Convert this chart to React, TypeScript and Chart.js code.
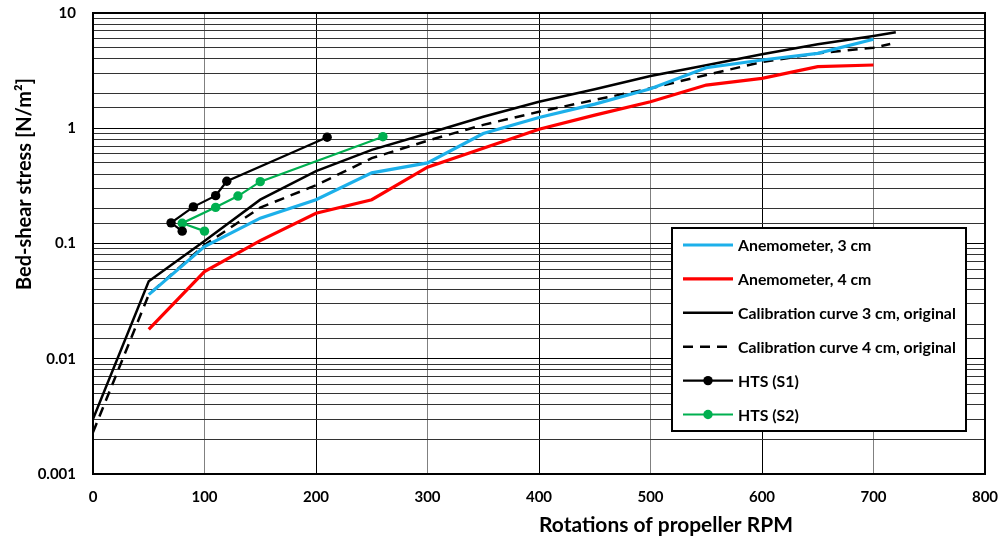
import React, { useEffect, useRef } from "react";
import { Chart, registerables } from "chart.js";

Chart.register(...registerables);

// ---- data ----
const rpmCalib3 = [0, 50, 100, 150, 200, 250, 300, 350, 400, 450, 500, 550, 600, 650, 700, 720];
const tauCalib3 = [0.003, 0.047, 0.105, 0.24, 0.425, 0.65, 0.9, 1.26, 1.7, 2.18, 2.84, 3.52, 4.38, 5.35, 6.31, 6.8];

const rpmCalib4 = [0, 50, 100, 150, 200, 250, 300, 350, 400, 450, 500, 550, 600, 650, 700, 715];
const tauCalib4 = [0.0023, 0.036, 0.097, 0.205, 0.32, 0.55, 0.78, 1.07, 1.39, 1.76, 2.22, 2.9, 3.75, 4.47, 5.0, 5.38];

const rpmAnemo3 = [50, 100, 150, 200, 250, 300, 350, 400, 450, 500, 550, 600, 650, 700];
const tauAnemo3 = [0.036, 0.094, 0.166, 0.24, 0.41, 0.5, 0.9, 1.24, 1.62, 2.2, 3.35, 3.91, 4.47, 5.92];

const rpmAnemo4 = [50, 100, 150, 200, 250, 300, 350, 400, 450, 500, 550, 600, 650, 700];
const tauAnemo4 = [0.018, 0.057, 0.106, 0.183, 0.24, 0.46, 0.67, 0.98, 1.3, 1.7, 2.37, 2.71, 3.42, 3.54];

const rpmHtsS1 = [80, 70, 90, 110, 120, 210];
const tauHtsS1 = [0.128, 0.151, 0.208, 0.26, 0.347, 0.835];

const rpmHtsS2 = [100, 80, 110, 130, 150, 260];
const tauHtsS2 = [0.128, 0.15, 0.206, 0.258, 0.344, 0.845];

const xTickLabels = ["0", "100", "200", "300", "400", "500", "600", "700", "800"];
const yTickLabels = ["0.001", "0.01", "0.1", "1", "10"];

const seriesNames = [
  "Anemometer, 3 cm",
  "Anemometer, 4 cm",
  "Calibration curve 3 cm, original",
  "Calibration curve 4 cm, original",
  "HTS (S1)",
  "HTS (S2)",
];

const xTitle = "Rotations of propeller RPM";
const yTitle = "Bed-shear stress [N/m²]";

const FONT = "Lato, 'Open Sans', sans-serif";

const pts = (xs: number[], ys: number[]) => xs.map((x, i) => ({ x, y: ys[i] }));

function fitSize(ctx: CanvasRenderingContext2D, text: string, target: number) {
  ctx.font = `bold 100px ${FONT}`;
  const w = ctx.measureText(text).width;
  return (100 * target) / w;
}

const decorPlugin = {
  id: "decor",
  beforeDatasetsDraw(chart: any) {
    const { ctx, chartArea: a } = chart;
    ctx.save();
    ctx.strokeStyle = "#000";
    ctx.lineWidth = 2;
    ctx.strokeRect(a.left, a.top, a.right - a.left, a.bottom - a.top);
    ctx.restore();
  },
  afterDraw(chart: any) {
    const { ctx } = chart;
    ctx.save();
    ctx.fillStyle = "#000";
    ctx.textAlign = "center";
    ctx.textBaseline = "middle";
    const xs = fitSize(ctx, xTitle, 254);
    ctx.font = `bold ${xs}px ${FONT}`;
    ctx.fillText(xTitle, 666, 525);
    const ys = fitSize(ctx, yTitle, 212);
    ctx.font = `bold ${ys}px ${FONT}`;
    ctx.translate(25, 184);
    ctx.rotate(-Math.PI / 2);
    ctx.fillText(yTitle, 0, 0);
    ctx.restore();

    // legend
    ctx.save();
    const bx = 672, by = 228, bw = 294, bh = 203;
    ctx.fillStyle = "#fff";
    ctx.fillRect(bx, by, bw, bh);
    ctx.strokeStyle = "#000";
    ctx.lineWidth = 2;
    ctx.strokeRect(bx, by, bw, bh);
    const ls = fitSize(ctx, seriesNames[2], 218);
    ctx.font = `bold ${ls}px ${FONT}`;
    ctx.textAlign = "left";
    ctx.textBaseline = "middle";
    chart.data.datasets.forEach((ds: any, i: number) => {
      const cy = 245 + i * 33.9;
      ctx.save();
      ctx.strokeStyle = ds.borderColor;
      ctx.lineWidth = ds.borderWidth;
      ctx.setLineDash(ds.borderDash || []);
      ctx.beginPath();
      ctx.moveTo(683, cy);
      ctx.lineTo(733, cy);
      ctx.stroke();
      if (ds.pointRadius > 0) {
        ctx.fillStyle = ds.borderColor;
        ctx.beginPath();
        ctx.arc(708, cy, ds.pointRadius, 0, Math.PI * 2);
        ctx.fill();
      }
      ctx.restore();
      ctx.fillStyle = "#000";
      ctx.fillText(ds.label, 738, cy + 1);
    });
    ctx.restore();
  },
};

export default function App() {
  const ref = useRef<HTMLCanvasElement>(null);
  useEffect(() => {
    const canvas = ref.current!;
    const isMajor = (v: number) => Math.abs(Math.log10(v) - Math.round(Math.log10(v))) < 1e-6;
    const chart = new Chart(canvas, {
      type: "scatter",
      data: {
        datasets: [
          { label: seriesNames[0], data: pts(rpmAnemo3, tauAnemo3), borderColor: "#1cb0ea", borderWidth: 3.2, showLine: true, pointRadius: 0 },
          { label: seriesNames[1], data: pts(rpmAnemo4, tauAnemo4), borderColor: "#ff0000", borderWidth: 3.2, showLine: true, pointRadius: 0 },
          { label: seriesNames[2], data: pts(rpmCalib3, tauCalib3), borderColor: "#000000", borderWidth: 2.5, showLine: true, pointRadius: 0 },
          { label: seriesNames[3], data: pts(rpmCalib4, tauCalib4), borderColor: "#000000", borderWidth: 2.5, borderDash: [10, 7], showLine: true, pointRadius: 0 },
          { label: seriesNames[4], data: pts(rpmHtsS1, tauHtsS1), borderColor: "#000000", backgroundColor: "#000000", borderWidth: 2.2, showLine: true, pointRadius: 4.7, pointBorderWidth: 0, pointBackgroundColor: "#000000" },
          { label: seriesNames[5], data: pts(rpmHtsS2, tauHtsS2), borderColor: "#00b050", backgroundColor: "#00b050", borderWidth: 2.2, showLine: true, pointRadius: 4.7, pointBorderWidth: 0, pointBackgroundColor: "#00b050" },
        ] as any,
      },
      options: {
        animation: false,
        responsive: false,
        devicePixelRatio: 1,
        layout: { autoPadding: false, padding: { left: 0, top: 13, right: 22, bottom: 0 } },
        plugins: { legend: { display: false }, tooltip: { enabled: false } },
        scales: {
          x: {
            type: "linear",
            min: 0,
            max: 800,
            afterFit: (s: any) => {
              s.height = 67;
              s.paddingLeft = 0;
              s.paddingRight = 0;
            },
            ticks: {
              stepSize: 100,
              maxRotation: 0,
              autoSkip: false,
              padding: 14,
              color: "#000",
              font: { family: FONT, weight: "bold", size: 15 },
              callback: (v: any) => xTickLabels[Math.round(Number(v) / 100)] ?? "",
            },
            grid: {
              drawTicks: false,
              lineWidth: 1,
              color: (c: any) => (c.tick && Math.round(c.tick.value) % 200 === 100 ? "#808080" : "#000"),
            },
            border: { display: false },
          },
          y: {
            type: "logarithmic",
            min: 0.001,
            max: 10,
            afterFit: (s: any) => {
              s.width = 93;
              s.paddingTop = 0;
              s.paddingBottom = 0;
            },
            ticks: {
              autoSkip: false,
              padding: 17,
              color: "#000",
              font: { family: FONT, weight: "bold", size: 15 },
              callback: (v: any) => {
                const n = Number(v);
                if (!isMajor(n)) return "";
                return yTickLabels[Math.round(Math.log10(n)) + 3] ?? "";
              },
            },
            grid: {
              drawTicks: false,
              lineWidth: 1,
              color: (c: any) => (c.tick && isMajor(c.tick.value) ? "#000" : "#333"),
            },
            border: { display: false },
          },
        },
      } as any,
      plugins: [decorPlugin],
    });
    return () => chart.destroy();
  }, []);
  return (
    <div style={{ position: "absolute", left: 0, top: 0, width: 1007, height: 541, background: "#fff" }}>
      <canvas ref={ref} width={1007} height={541} style={{ display: "block" }} />
    </div>
  );
}
